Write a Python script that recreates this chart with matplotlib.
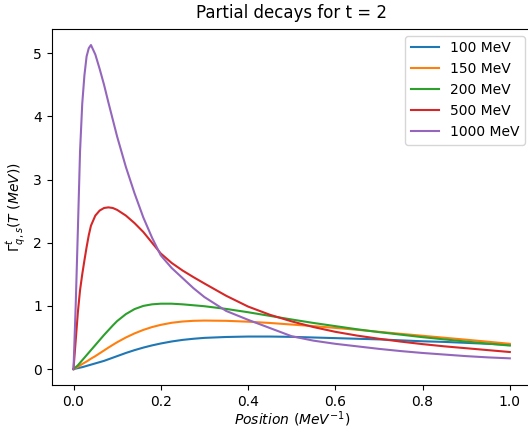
import matplotlib
matplotlib.use("Agg")
import matplotlib.pyplot as plt

position = [0, 0.005, 0.01, 0.015, 0.02, 0.025, 0.03, 0.035, 0.04, 0.05, 0.06, 0.07,
            0.08, 0.09, 0.1, 0.12, 0.14, 0.16, 0.18, 0.2, 0.225, 0.25, 0.275, 0.3,
            0.35, 0.4, 0.45, 0.5, 0.55, 0.6, 0.65, 0.7, 0.75, 0.8, 0.85, 0.9, 0.95, 1.0]

gamma_100 = [0, 0.008, 0.015, 0.023, 0.03, 0.04, 0.05, 0.06, 0.07, 0.09, 0.11, 0.13,
             0.155, 0.18, 0.205, 0.255, 0.30, 0.34, 0.375, 0.405, 0.437, 0.462, 0.48, 0.494,
             0.508, 0.515, 0.515, 0.51, 0.50, 0.49, 0.48, 0.47, 0.455, 0.44, 0.43, 0.415, 0.40, 0.385]

gamma_150 = [0, 0.02, 0.035, 0.058, 0.08, 0.1, 0.12, 0.142, 0.165, 0.205, 0.25, 0.295,
             0.34, 0.383, 0.425, 0.50, 0.565, 0.62, 0.665, 0.70, 0.733, 0.753, 0.764, 0.768,
             0.764, 0.75, 0.73, 0.705, 0.68, 0.652, 0.622, 0.59, 0.558, 0.527, 0.496, 0.465, 0.433, 0.40]

gamma_200 = [0, 0.03, 0.06, 0.1, 0.14, 0.18, 0.22, 0.26, 0.30, 0.38, 0.46, 0.54,
             0.615, 0.69, 0.76, 0.87, 0.95, 1.0, 1.025, 1.035, 1.035, 1.025, 1.01, 0.995,
             0.952, 0.9, 0.842, 0.785, 0.73, 0.68, 0.63, 0.585, 0.545, 0.505, 0.47, 0.435, 0.403, 0.372]

gamma_500 = [0, 0.45, 0.9, 1.25, 1.5, 1.72, 1.93, 2.12, 2.27, 2.43, 2.51, 2.55,
             2.56, 2.55, 2.52, 2.43, 2.31, 2.17, 2.0, 1.83, 1.68, 1.56, 1.455, 1.355,
             1.16, 0.99, 0.86, 0.755, 0.665, 0.59, 0.53, 0.48, 0.435, 0.395, 0.36, 0.33, 0.30, 0.27]

gamma_1000 = [0, 1.0, 2.2, 3.45, 4.2, 4.65, 4.95, 5.08, 5.13, 4.98, 4.75, 4.5,
              4.22, 3.95, 3.68, 3.2, 2.78, 2.4, 2.08, 1.8, 1.6, 1.44, 1.28, 1.14,
              0.92, 0.78, 0.65, 0.52, 0.45, 0.40, 0.36, 0.32, 0.285, 0.255, 0.23, 0.205, 0.185, 0.17]

labels = ["100 MeV", "150 MeV", "200 MeV", "500 MeV", "1000 MeV"]
series = [gamma_100, gamma_150, gamma_200, gamma_500, gamma_1000]

fig = plt.figure(figsize=(5.28, 4.30), dpi=100)
ax = fig.add_axes([0.0979, 0.104, 0.909, 0.829])
for vals, lab in zip(series, labels):
    ax.plot(position, vals, label=lab)
ax.set_title("Partial decays for t = 2", pad=7.5)
ax.set_xlabel(r"$Position\ (MeV^{-1})$", labelpad=0.5)
ax.set_ylabel(r"$\Gamma^{t}_{q,s}(T\ (MeV))$")
ax.legend(loc="upper right")
fig.savefig("out.png", dpi=100)
